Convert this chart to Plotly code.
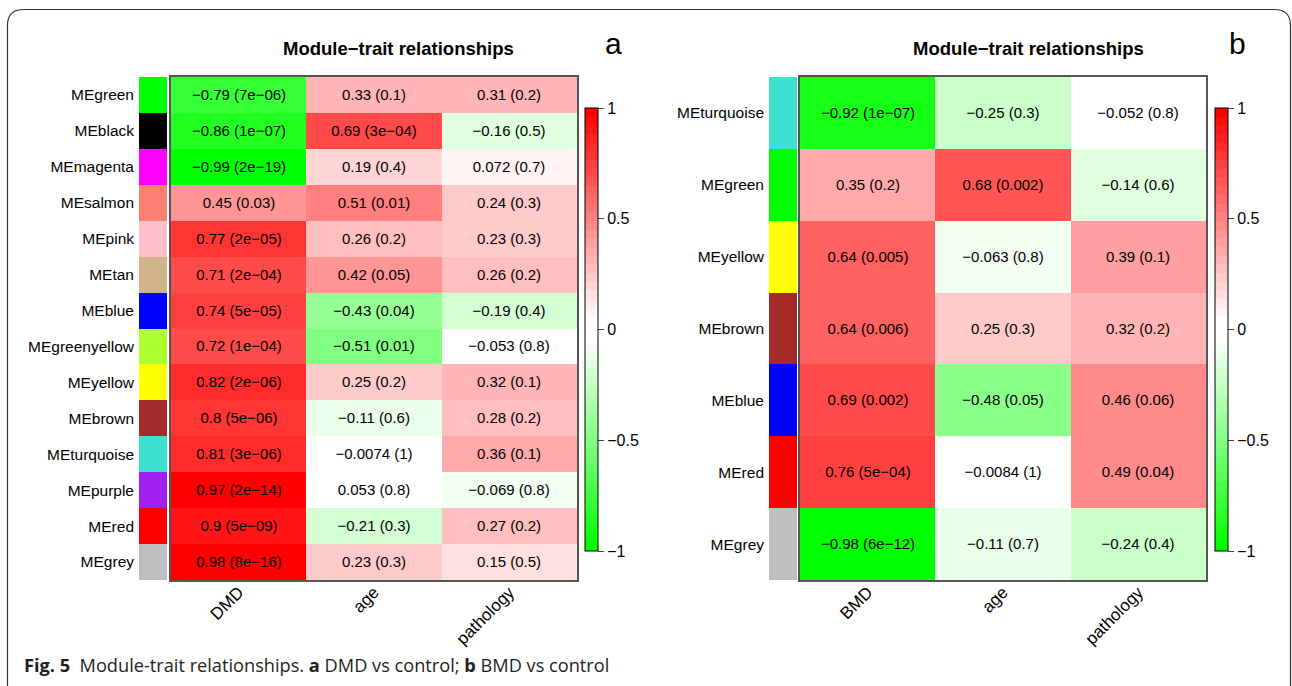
import plotly.graph_objects as go

W, H = 1292, 686

# ---------------- data ----------------
left_modules = ["MEgreen", "MEblack", "MEmagenta", "MEsalmon", "MEpink", "MEtan", "MEblue",
                "MEgreenyellow", "MEyellow", "MEbrown", "MEturquoise", "MEpurple", "MEred", "MEgrey"]
left_module_colors = ["#00FF00", "#000000", "#FF00FF", "#FA8072", "#FFC0CB", "#D2B48C", "#0000FF",
                      "#ADFF2F", "#FFFF00", "#A52A2A", "#40E0D0", "#A020F0", "#FF0000", "#BEBEBE"]
left_traits = ["DMD", "age", "pathology"]
left_dmd = [-0.79, -0.86, -0.99, 0.45, 0.77, 0.71, 0.74, 0.72, 0.82, 0.8, 0.81, 0.97, 0.9, 0.98]
left_dmd_p = ["7e-06", "1e-07", "2e-19", "0.03", "2e-05", "2e-04", "5e-05", "1e-04", "2e-06",
              "5e-06", "3e-06", "2e-14", "5e-09", "8e-16"]
left_age = [0.33, 0.69, 0.19, 0.51, 0.26, 0.42, -0.43, -0.51, 0.25, -0.11, -0.0074, 0.053, -0.21, 0.23]
left_age_p = ["0.1", "3e-04", "0.4", "0.01", "0.2", "0.05", "0.04", "0.01", "0.2", "0.6", "1",
              "0.8", "0.3", "0.3"]
left_path = [0.31, -0.16, 0.072, 0.24, 0.23, 0.26, -0.19, -0.053, 0.32, 0.28, 0.36, -0.069, 0.27, 0.15]
left_path_p = ["0.2", "0.5", "0.7", "0.3", "0.3", "0.2", "0.4", "0.8", "0.1", "0.2", "0.1",
               "0.8", "0.2", "0.5"]

right_modules = ["MEturquoise", "MEgreen", "MEyellow", "MEbrown", "MEblue", "MEred", "MEgrey"]
right_module_colors = ["#40E0D0", "#00FF00", "#FFFF00", "#A52A2A", "#0000FF", "#FF0000", "#BEBEBE"]
right_traits = ["BMD", "age", "pathology"]
right_bmd = [-0.92, 0.35, 0.64, 0.64, 0.69, 0.76, -0.98]
right_bmd_p = ["1e-07", "0.2", "0.005", "0.006", "0.002", "5e-04", "6e-12"]
right_age = [-0.25, 0.68, -0.063, 0.25, -0.48, -0.0084, -0.11]
right_age_p = ["0.3", "0.002", "0.8", "0.3", "0.05", "1", "0.7"]
right_path = [-0.052, -0.14, 0.39, 0.32, 0.46, 0.49, -0.24]
right_path_p = ["0.8", "0.6", "0.1", "0.2", "0.06", "0.04", "0.4"]

cbar_ticks = [-1, -0.5, 0, 0.5, 1]
cbar_ticktext = ["\u22121", "\u22120.5", "0", "0.5", "1"]

# ---------------- helpers ----------------
def m(s):
    return s.replace("-", "\u2212")

def cell_text(v, p):
    return m(f"{v:g}") + " (" + m(p) + ")"

# WGCNA greenWhiteRed(50): 51 discrete colours
half = 25
red = [i / (half - 1) for i in range(half)] + [1] * (half + 1)
green = [1] * (half + 1) + [1 - i / (half - 1) for i in range(half)]
blue = [i / (half - 1) for i in range(half)] + [1] + [1 - i / (half - 1) for i in range(half)]
gwr = [f"rgb({round(r*255)},{round(g*255)},{round(b*255)})" for r, g, b in zip(red, green, blue)]
ncol = len(gwr)
gwr_scale = []
for i, c in enumerate(gwr):
    gwr_scale.append([i / ncol, c])
    gwr_scale.append([(i + 1) / ncol, c])

def discrete_scale(colors):
    n = len(colors)
    sc = []
    for i, c in enumerate(colors):
        sc.append([i / n, c])
        sc.append([(i + 1) / n, c])
    return sc

def px_x(x):
    return x / W

def px_y(y):
    return 1 - y / H

FONT = "Liberation Sans"

fig = go.Figure()

panels = [
    dict(mods=left_modules, cols=left_module_colors, traits=left_traits,
         vals=[left_dmd, left_age, left_path], ps=[left_dmd_p, left_age_p, left_path_p],
         colx=(139, 167), hmx=(171, 577), cbx=585, ax=1),
    dict(mods=right_modules, cols=right_module_colors, traits=right_traits,
         vals=[right_bmd, right_age, right_path], ps=[right_bmd_p, right_age_p, right_path_p],
         colx=(769, 797), hmx=(800, 1206), cbx=1215, ax=3),
]

ytop, ybot = 77, 580
layout_axes = {}
for P in panels:
    a1 = P["ax"]
    a2 = a1 + 1
    n = len(P["mods"])
    # module colour column
    fig.add_trace(go.Heatmap(
        x=["col"], y=P["mods"], z=[[i] for i in range(n)],
        colorscale=discrete_scale(P["cols"]), zmin=-0.5, zmax=n - 0.5,
        showscale=False, hoverinfo="skip",
        xaxis=f"x{a1}", yaxis=f"y{a1}"))
    # correlation heatmap
    z = [[P["vals"][j][i] for j in range(3)] for i in range(n)]
    txt = [[cell_text(P["vals"][j][i], P["ps"][j][i]) for j in range(3)] for i in range(n)]
    fig.add_trace(go.Heatmap(
        x=P["traits"], y=P["mods"], z=z, text=txt, texttemplate="%{text}",
        textfont=dict(family=FONT, size=15, color="black"),
        colorscale=gwr_scale, zmin=-1, zmax=1, hoverinfo="skip",
        colorbar=dict(
            x=px_x(P["cbx"]), xanchor="left", xpad=0, ypad=0,
            y=px_y((108 + 551) / 2), yanchor="middle",
            len=(551 - 108) / H, lenmode="fraction",
            thickness=13, outlinewidth=1, outlinecolor="black",
            tickmode="array", tickvals=cbar_ticks, ticktext=cbar_ticktext,
            ticks="outside", ticklen=6, tickcolor="#444",
            tickfont=dict(family=FONT, size=16, color="black"),
        ),
        xaxis=f"x{a2}", yaxis=f"y{a2}"))

    sfx1 = "" if a1 == 1 else str(a1)
    sfx2 = str(a2)
    yd = [px_y(ybot), px_y(ytop)]
    layout_axes[f"xaxis{sfx1}"] = dict(domain=[px_x(P["colx"][0]), px_x(P["colx"][1])],
                                       anchor=f"y{a1}", showticklabels=False, showgrid=False,
                                       zeroline=False, showline=False, fixedrange=True)
    layout_axes[f"yaxis{sfx1}"] = dict(domain=yd, anchor=f"x{a1}", autorange="reversed",
                                       showgrid=False, zeroline=False, showline=False,
                                       ticks="", ticklabelstandoff=4,
                                       tickfont=dict(family=FONT, size=15.5, color="black"))
    layout_axes[f"xaxis{sfx2}"] = dict(domain=[px_x(P["hmx"][0]), px_x(P["hmx"][1])],
                                       anchor=f"y{a2}", tickangle=-45, showgrid=False,
                                       zeroline=False, showline=True, mirror=True,
                                       linecolor="#555", linewidth=1.5, ticks="",
                                       ticklabelstandoff=-6,
                                       tickfont=dict(family=FONT, size=17, color="black"))
    layout_axes[f"yaxis{sfx2}"] = dict(domain=yd, anchor=f"x{a2}", autorange="reversed",
                                       showticklabels=False, showgrid=False, zeroline=False,
                                       showline=True, mirror=True, linecolor="#555",
                                       linewidth=1.5, ticks="")

annotations = [
    dict(text="<b>Module\u2212trait relationships</b>", x=px_x(398), y=px_y(48),
         font=dict(family=FONT, size=18.5, color="black")),
    dict(text="a", x=px_x(613), y=px_y(44), font=dict(family=FONT, size=30, color="black")),
    dict(text="<b>Module\u2212trait relationships</b>", x=px_x(1028), y=px_y(48),
         font=dict(family=FONT, size=18.5, color="black")),
    dict(text="b", x=px_x(1237), y=px_y(44), font=dict(family=FONT, size=30, color="black")),
    dict(text="<b>Fig. 5</b>  Module-trait relationships. <b>a</b> DMD vs control; <b>b</b> BMD vs control",
         x=px_x(22), y=px_y(665), xanchor="left",
         font=dict(family="Open Sans, Noto Sans, sans-serif", size=18.2, color="#231F20")),
]
for a in annotations:
    a.update(xref="paper", yref="paper", showarrow=False)
    a.setdefault("xanchor", "center")
    a.setdefault("yanchor", "middle")

# rounded outer frame
r = 16
L, T, R, B = 7.5, 9.5, 1290.5, 700
path = (f"M {px_x(L)},{px_y(B)} L {px_x(L)},{px_y(T + r)} "
        f"Q {px_x(L)},{px_y(T)} {px_x(L + r)},{px_y(T)} "
        f"L {px_x(R - r)},{px_y(T)} Q {px_x(R)},{px_y(T)} {px_x(R)},{px_y(T + r)} "
        f"L {px_x(R)},{px_y(B)}")
shapes = [dict(type="path", xref="paper", yref="paper", path=path,
               line=dict(color="#333", width=1.2))]

fig.update_layout(
    width=W, height=H, margin=dict(l=0, r=0, t=0, b=0),
    paper_bgcolor="white", plot_bgcolor="white",
    annotations=annotations, shapes=shapes, showlegend=False,
    **layout_axes,
)

fig.write_html("out.html")
